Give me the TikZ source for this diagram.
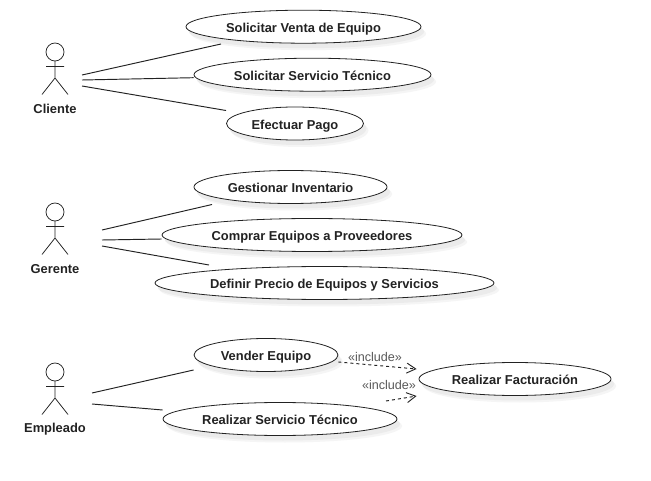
\documentclass[tikz,border=0pt]{standalone}
\usepackage{fontspec}
\setmainfont{Liberation Sans}
\usetikzlibrary{arrows.meta,shapes.geometric,calc}
\definecolor{ink}{HTML}{222222}
\newcommand{\uctext}[1]{\raisebox{-5.6pt}[0pt][0pt]{\makebox[0pt][c]{#1}}}
\tikzset{
  x=1pt,y=-1pt,
  every node/.style={font=\fontsize{12.9}{14}\selectfont\bfseries,text=ink},
  usecase/.style={ellipse,draw=ink,fill=white,line width=.8pt,inner sep=0pt,
    minimum height=33pt,
    preaction={draw=none,fill=black!4,transform canvas={shift={(5pt,-7pt)}}},
    preaction={draw=none,fill=black!8,transform canvas={shift={(3pt,-5pt)}}}},
  assoc/.style={draw=ink,line width=.95pt},
  incl/.style={draw=ink,line width=.95pt,dash pattern=on 3pt off 3pt,-{Straight Barb[length=9pt,width=10pt,line width=.9pt]}},
  incltext/.style={font=\fontsize{12.6}{14}\selectfont,text=black!65},
  figure/.style={draw=ink,line width=.75pt},
}
\newcommand{\stick}[2]{%
  \draw[figure] (#1,#2) circle[radius=9];
  \draw[figure] (#1,#2+9) -- (#1,#2+26) (#1-9,#2+14.5) -- (#1+9,#2+14.5)
    (#1-13,#2+42.5) -- (#1,#2+26) -- (#1+13,#2+42.5);}
\begin{document}
\begin{tikzpicture}
\useasboundingbox[fill=white] (0,0) rectangle (651,481);
% use cases
\node[usecase,minimum width=235pt] (u1) at (303.5,26.7) {\uctext{Solicitar Venta de Equipo}};
\node[usecase,minimum width=237pt] (u2) at (312.5,74.7) {\uctext{Solicitar Servicio Técnico}};
\node[usecase,minimum width=137pt] (u3) at (295,123.5) {\uctext{Efectuar Pago}};
\node[usecase,minimum width=193pt] (u4) at (290.5,187) {\uctext{Gestionar Inventario}};
\node[usecase,minimum width=300pt] (u5) at (312,235) {\uctext{Comprar Equipos a Proveedores}};
\node[usecase,minimum width=339pt] (u6) at (324.5,283) {\uctext{Definir Precio de Equipos y Servicios}};
\node[usecase,minimum width=144pt] (u7) at (266,355) {\uctext{Vender Equipo}};
\node[usecase,minimum width=234pt] (u8) at (280,419) {\uctext{Realizar Servicio Técnico}};
\node[usecase,minimum width=192pt] (u9) at (515,379) {\uctext{Realizar Facturación}};
% actors
\stick{55}{52}
\stick{55}{212}
\stick{55}{372}
\node (a1) at (55,109) {Cliente};
\node (a2) at (55,269) {Gerente};
\node (a3) at (55,429) {Empleado};
% associations
\coordinate (c1) at (82,75);
\coordinate (c2) at (82,80);
\coordinate (c3) at (82,86);
\coordinate (g1) at (102,230);
\coordinate (g2) at (102,240);
\coordinate (g3) at (102,246);
\coordinate (e1) at (92,393);
\coordinate (e2) at (92,404);
\draw[assoc] (c1) -- ($(u1.center)+(-82.5,17.3)$);
\draw[assoc] (c2) -- ($(u2.west)+(0,3)$);
\draw[assoc] (c3) -- ($(u3.center)+(-69,-13)$);
\draw[assoc] (g1) -- ($(u4.center)+(-78.5,17.5)$);
\draw[assoc] (g2) -- ($(u5.west)+(0,4)$);
\draw[assoc] (g3) -- ($(u6.center)+(-115.5,-18)$);
\draw[assoc] (e1) -- ($(u7.west)+(0,15)$);
\draw[assoc] (e2) -- ($(u8.west)+(0,-9)$);
% includes
\draw[incl] ($(u7.east)+(0,7)$) -- ($(u9.west)+(-2,-10)$);
\coordinate (f1) at (386,401);
\draw[incl] (f1) -- ($(u9.west)+(-2,17)$);
\node[incltext] (l1) at (375,357) {«include»};
\node[incltext] (l2) at (389,385) {«include»};
\end{tikzpicture}
\end{document}
